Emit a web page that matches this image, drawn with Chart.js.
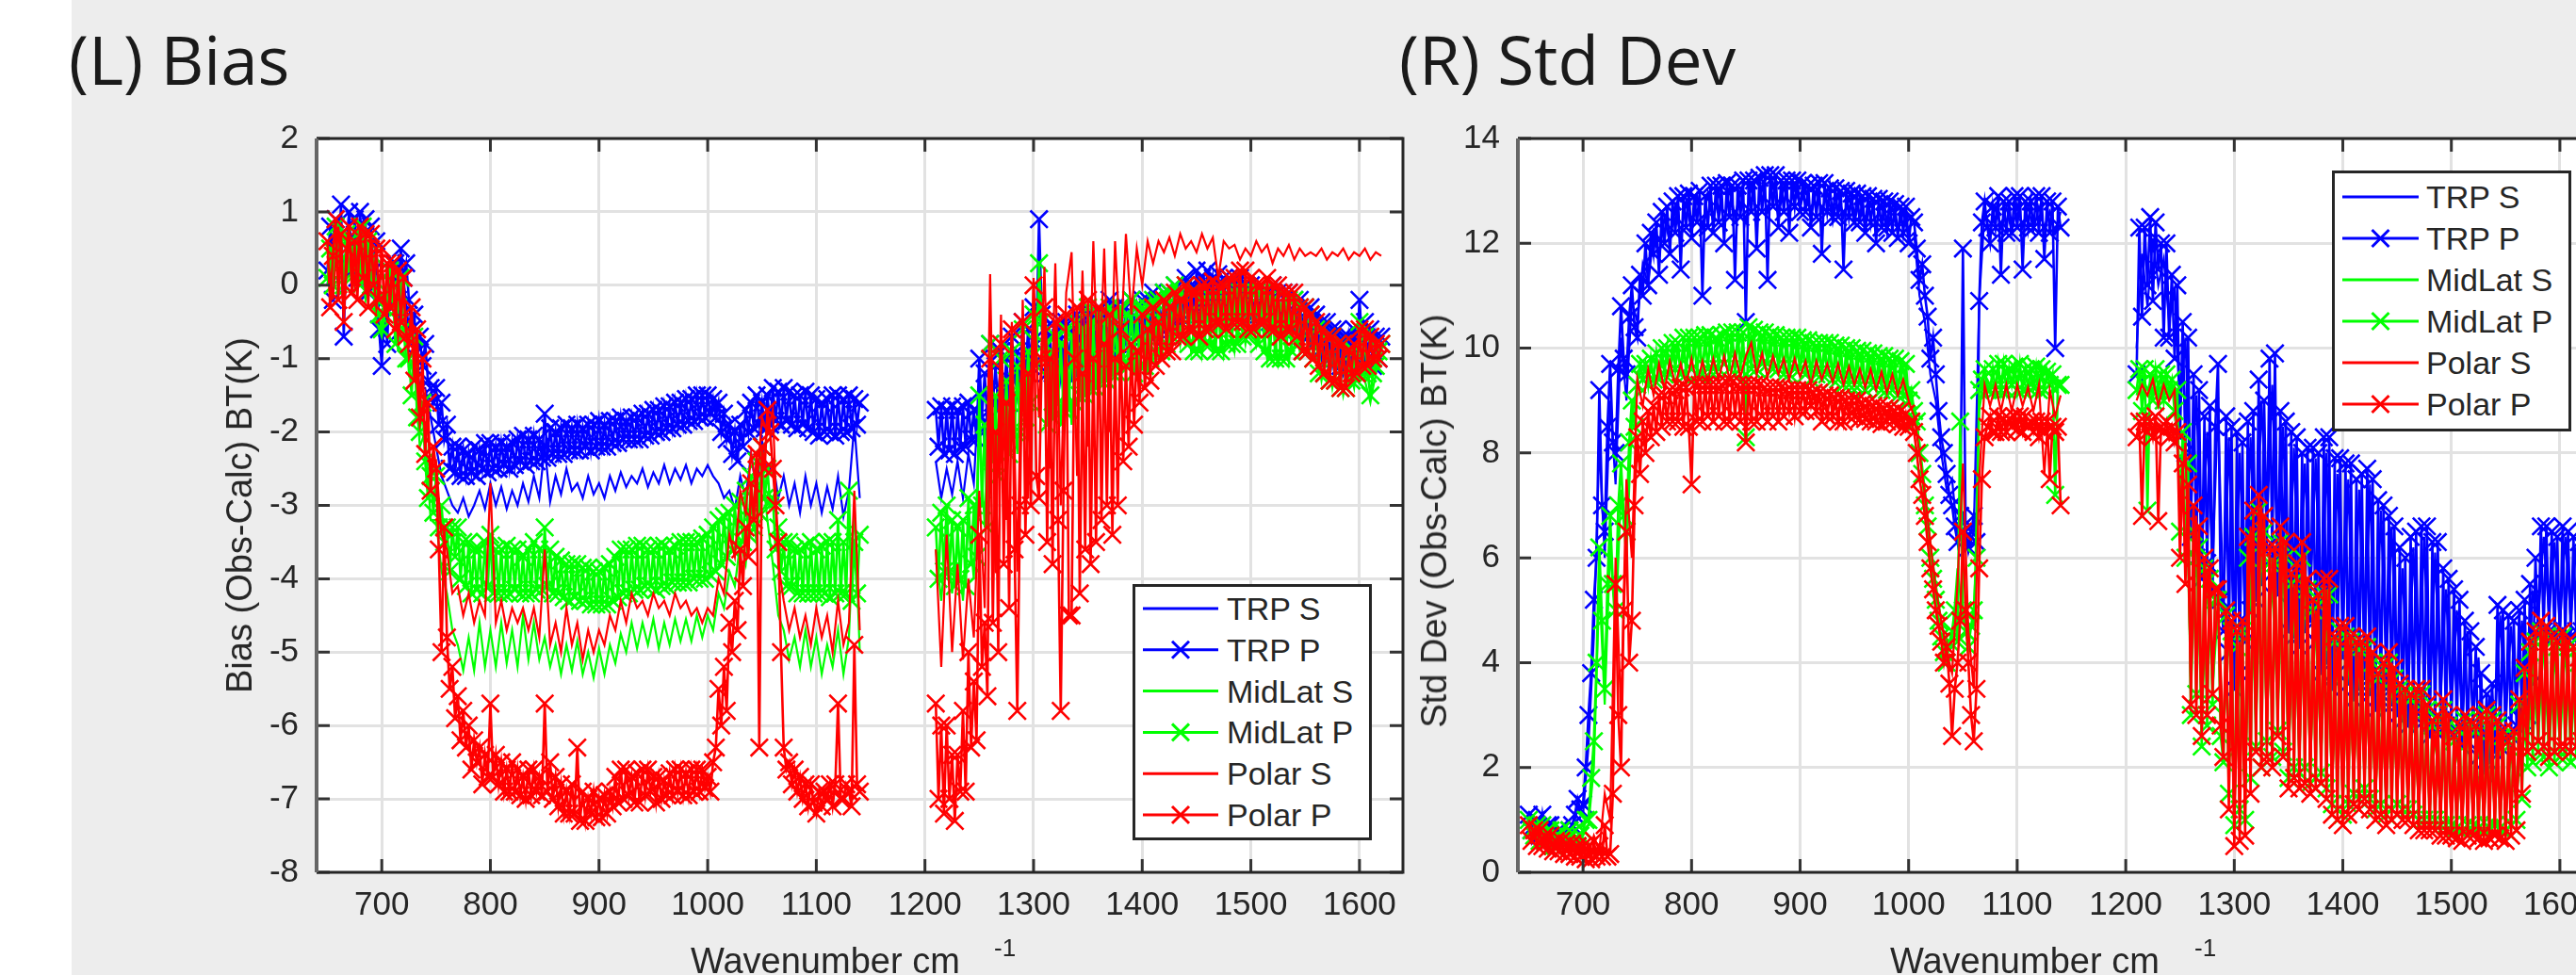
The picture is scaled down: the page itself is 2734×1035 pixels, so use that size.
<!DOCTYPE html>
<html lang="en">
<head>
<meta charset="utf-8">
<title>(L) Bias / (R) Std Dev</title>
<script src="https://cdn.jsdelivr.net/npm/chart.js"></script>
<style>
  html, body { margin: 0; padding: 0; }
  body { position: relative; width: 2734px; height: 1035px; overflow: hidden; background: #ededed;
         font-family: "Liberation Sans", Arial, sans-serif; color: #262626; }
  .strip { position: absolute; left: 0; top: 0; width: 76px; height: 1035px; background: #ffffff; }
  canvas { position: absolute; top: 0; }
  #biasChart { left: 0; }
  #stdChart { left: 1400px; }
  .panel-title { position: absolute; top: 27px; font-family: "Open Sans", sans-serif; font-weight: 400;
                 font-size: 71px; line-height: 71px; color: #1a1a1a; white-space: nowrap; }
  .y-title { position: absolute; font-size: 38px; line-height: 38px; white-space: nowrap;
             transform: translate(-50%, -50%) rotate(-90deg); }
  .x-title { position: absolute; top: 1001px; font-size: 38px; line-height: 38px; white-space: nowrap; }
  .x-sup { position: absolute; top: 993px; font-size: 26px; line-height: 26px; white-space: nowrap; }
  svg.legend { position: absolute; z-index: 2; }
</style>
</head>
<body>
<div class="strip"></div>
<canvas id="biasChart" width="1500" height="1035"></canvas>
<canvas id="stdChart" width="1400" height="1035"></canvas>
<div class="panel-title" style="left:73px">(L) Bias</div>
<div class="panel-title" style="left:1485px">(R) Std Dev</div>
<div class="y-title" style="left:254px;top:547px">Bias (Obs-Calc) BT(K)</div>
<div class="y-title" style="left:1522px;top:553px">Std Dev (Obs-Calc) BT(K)</div>
<div class="x-title" style="left:733px">Wavenumber cm</div>
<div class="x-sup" style="left:1055px">-1</div>
<div class="x-title" style="left:2006px">Wavenumber cm</div>
<div class="x-sup" style="left:2329px">-1</div>
<svg class="legend" id="biasLegend" style="left:1202px;top:620px" width="254" height="272"></svg>
<svg class="legend" id="stdLegend" style="left:2475px;top:181px" width="254" height="277"></svg>
<script>
// ---- wavenumber sampling (cm^-1) of the two instrument bands ----
// 5 cm^-1 sampling (S profiles)
const wnLW = [
  650,655,660,665,670,675,680,685,690,695,
  700,705,710,715,720,725,730,735,740,745,
  750,755,760,765,770,775,780,785,790,795,
  800,805,810,815,820,825,830,835,840,845,
  850,855,860,865,870,875,880,885,890,895,
  900,905,910,915,920,925,930,935,940,945,
  950,955,960,965,970,975,980,985,990,995,
  1000,1005,1010,1015,1020,1025,1030,1035,1040,1045,
  1050,1055,1060,1065,1070,1075,1080,1085,1090,1095,
  1100,1105,1110,1115,1120,1125,1130,1135,1140];
const wnMW = [
  1210,1215,1220,1225,1230,1235,1240,1245,1250,1255,
  1260,1265,1270,1275,1280,1285,1290,1295,1300,1305,
  1310,1315,1320,1325,1330,1335,1340,1345,1350,1355,
  1360,1365,1370,1375,1380,1385,1390,1395,1400,1405,
  1410,1415,1420,1425,1430,1435,1440,1445,1450,1455,
  1460,1465,1470,1475,1480,1485,1490,1495,1500,1505,
  1510,1515,1520,1525,1530,1535,1540,1545,1550,1555,
  1560,1565,1570,1575,1580,1585,1590,1595,1600,1605,
  1610,1615,1620];
// 2.5 cm^-1 sampling (P profiles)
const wnLWfine = [
  650,652.5,655,657.5,660,662.5,665,667.5,670,672.5,
  675,677.5,680,682.5,685,687.5,690,692.5,695,697.5,
  700,702.5,705,707.5,710,712.5,715,717.5,720,722.5,
  725,727.5,730,732.5,735,737.5,740,742.5,745,747.5,
  750,752.5,755,757.5,760,762.5,765,767.5,770,772.5,
  775,777.5,780,782.5,785,787.5,790,792.5,795,797.5,
  800,802.5,805,807.5,810,812.5,815,817.5,820,822.5,
  825,827.5,830,832.5,835,837.5,840,842.5,845,847.5,
  850,852.5,855,857.5,860,862.5,865,867.5,870,872.5,
  875,877.5,880,882.5,885,887.5,890,892.5,895,897.5,
  900,902.5,905,907.5,910,912.5,915,917.5,920,922.5,
  925,927.5,930,932.5,935,937.5,940,942.5,945,947.5,
  950,952.5,955,957.5,960,962.5,965,967.5,970,972.5,
  975,977.5,980,982.5,985,987.5,990,992.5,995,997.5,
  1000,1002.5,1005,1007.5,1010,1012.5,1015,1017.5,1020,1022.5,
  1025,1027.5,1030,1032.5,1035,1037.5,1040,1042.5,1045,1047.5,
  1050,1052.5,1055,1057.5,1060,1062.5,1065,1067.5,1070,1072.5,
  1075,1077.5,1080,1082.5,1085,1087.5,1090,1092.5,1095,1097.5,
  1100,1102.5,1105,1107.5,1110,1112.5,1115,1117.5,1120,1122.5,
  1125,1127.5,1130,1132.5,1135,1137.5,1140];
const wnMWfine = [
  1210,1212.5,1215,1217.5,1220,1222.5,1225,1227.5,1230,1232.5,
  1235,1237.5,1240,1242.5,1245,1247.5,1250,1252.5,1255,1257.5,
  1260,1262.5,1265,1267.5,1270,1272.5,1275,1277.5,1280,1282.5,
  1285,1287.5,1290,1292.5,1295,1297.5,1300,1302.5,1305,1307.5,
  1310,1312.5,1315,1317.5,1320,1322.5,1325,1327.5,1330,1332.5,
  1335,1337.5,1340,1342.5,1345,1347.5,1350,1352.5,1355,1357.5,
  1360,1362.5,1365,1367.5,1370,1372.5,1375,1377.5,1380,1382.5,
  1385,1387.5,1390,1392.5,1395,1397.5,1400,1402.5,1405,1407.5,
  1410,1412.5,1415,1417.5,1420,1422.5,1425,1427.5,1430,1432.5,
  1435,1437.5,1440,1442.5,1445,1447.5,1450,1452.5,1455,1457.5,
  1460,1462.5,1465,1467.5,1470,1472.5,1475,1477.5,1480,1482.5,
  1485,1487.5,1490,1492.5,1495,1497.5,1500,1502.5,1505,1507.5,
  1510,1512.5,1515,1517.5,1520,1522.5,1525,1527.5,1530,1532.5,
  1535,1537.5,1540,1542.5,1545,1547.5,1550,1552.5,1555,1557.5,
  1560,1562.5,1565,1567.5,1570,1572.5,1575,1577.5,1580,1582.5,
  1585,1587.5,1590,1592.5,1595,1597.5,1600,1602.5,1605,1607.5,
  1610,1612.5,1615,1617.5,1620];
const bandBreak = 1175;          // no channels between the two bands

const xTicks = [700,800,900,1000,1100,1200,1300,1400,1500,1600];
const biasTicks = [-8,-7,-6,-5,-4,-3,-2,-1,0,1,2];
const stdTicks = [0,2,4,6,8,10,12,14];

const seriesNames = ['TRP S','TRP P','MidLat S','MidLat P','Polar S','Polar P'];

// ================= Bias (Obs-Calc), K =================
const biasTrpS_LW = [
  0,0.7,0.9,0.2,0.8,0.3,0.7,0.1,0.5,-0.3,
  -0.8,-0.4,0,-0.5,0.1,-0.6,-0.8,-1.4,-1.4,-1.8,
  -2.2,-2.6,-2.8,-3,-3.1,-2.9,-3.15,-3,-2.8,-3.05,
  -2.7,-3,-2.75,-3.05,-2.8,-3,-2.7,-2.95,-2.6,-2.9,
  -2.2,-2.95,-2.6,-2.85,-2.5,-2.8,-2.7,-2.9,-2.6,-2.85,
  -2.7,-2.9,-2.6,-2.8,-2.55,-2.75,-2.6,-2.7,-2.5,-2.75,
  -2.55,-2.7,-2.45,-2.7,-2.5,-2.65,-2.45,-2.7,-2.5,-2.6,
  -2.45,-2.6,-2.7,-2.9,-2.8,-3.05,-2.6,-2.9,-2.3,-2.8,
  -2.1,-2.6,-2.4,-2.9,-2.6,-3,-2.7,-3.1,-2.6,-3,
  -2.7,-3.1,-2.75,-3.05,-2.6,-3.15,-2.8,-1.9,-2.9];
const biasTrpP_LW = [
  0.2,0.8,-0.2,0.9,0.3,1.1,-0.7,0.6,1,0.2,
  0.9,0.1,1,0.3,0.9,-0.1,0.8,0.2,0.6,-0.6,
  -1.1,-0.2,-0.8,0.2,-0.3,0.3,-0.2,0.5,0.1,0.3,
  -0.2,-0.6,-0.4,-1,-0.7,-1.1,-0.8,-1.3,-1.4,-1.6,
  -1.4,-1.9,-1.6,-2.1,-1.9,-2.5,-2.2,-2.55,-2.2,-2.6,
  -2.25,-2.6,-2.3,-2.55,-2.2,-2.6,-2.25,-2.5,-2.15,-2.55,
  -2.15,-2.5,-2.2,-2.5,-2.15,-2.45,-2.2,-2.5,-2.15,-2.45,
  -2.1,-2.4,-2.05,-2.45,-2.1,-2.4,-2.05,-2.4,-2.1,-2.35,
  -1.75,-2.35,-1.95,-2.3,-2,-2.3,-1.95,-2.3,-1.9,-2.25,
  -1.95,-2.25,-1.9,-2.25,-1.95,-2.2,-1.9,-2.25,-1.9,-2.2,
  -1.85,-2.2,-1.9,-2.2,-1.85,-2.15,-1.85,-2.15,-1.8,-2.1,
  -1.85,-2.1,-1.8,-2.1,-1.8,-2.1,-1.75,-2.05,-1.75,-2.05,
  -1.7,-2,-1.7,-2,-1.65,-1.95,-1.65,-1.95,-1.6,-1.9,
  -1.6,-1.9,-1.55,-1.85,-1.55,-1.85,-1.5,-1.8,-1.5,-1.8,
  -1.5,-1.75,-1.55,-1.8,-1.6,-2,-1.75,-2.1,-1.9,-2.3,
  -2,-2.4,-1.9,-2.2,-1.7,-2,-1.6,-1.95,-1.5,-1.9,
  -1.6,-1.95,-1.5,-1.9,-1.4,-1.85,-1.45,-1.9,-1.4,-1.85,
  -1.45,-1.9,-1.5,-1.95,-1.5,-1.9,-1.45,-1.95,-1.5,-2,
  -1.55,-2.05,-1.6,-2,-1.55,-2,-1.5,-2.05,-1.5,-2,
  -1.55,-2,-1.5,-1.95,-1.55,-1.9,-1.6];
const biasMidS_LW = [
  0,0.5,0.7,-0.1,0.6,0,0.6,-0.2,0.3,-0.5,
  -0.7,-0.2,0,-0.9,-0.1,-1.2,-1,-2.2,-2,-3.2,
  -3.2,-3.9,-4.2,-4.7,-4.9,-5.25,-4.8,-5.25,-4.6,-5.2,
  -4.7,-5.2,-4.6,-5.15,-4.7,-5.2,-4.5,-5.1,-4.6,-5.1,
  -4.8,-5.2,-4.9,-5.3,-4.9,-5.25,-4.85,-5.3,-5,-5.35,
  -4.95,-5.3,-4.9,-5.15,-4.75,-5,-4.6,-4.95,-4.6,-4.9,
  -4.55,-4.95,-4.6,-4.9,-4.55,-4.85,-4.55,-4.85,-4.5,-4.8,
  -4.5,-4.7,-4.2,-4.4,-3.9,-4.1,-3.5,-3.8,-3,-3.5,
  -2.5,-3.2,-3.8,-4.5,-4.7,-5.1,-4.8,-5.2,-4.7,-5.2,
  -4.8,-5.3,-4.9,-5.2,-4.7,-5.3,-4.8,-3,-5];
const biasMidP_LW = [
  0.1,0.5,0,0.8,0.3,0.6,0,0.7,0.2,0.5,
  0.2,0.7,0,0.8,0.1,0.6,0,0.4,-0.2,-0.4,
  -0.6,-0.3,-0.1,0.2,0,-0.8,-0.3,0.1,-0.6,-1,
  -1,-1.5,-0.7,-1.8,-2,-1.6,-2.4,-2.9,-2.6,-3.1,
  -2.6,-3.3,-3,-3.5,-3.3,-3.9,-3.3,-3.7,-3.3,-4,
  -3.5,-4.1,-3.5,-4.2,-3.6,-4.15,-3.6,-4.2,-3.5,-4.1,
  -3.4,-4.2,-3.6,-4.2,-3.6,-4.2,-3.55,-4.2,-3.6,-4.15,
  -3.6,-4.2,-3.7,-4.2,-3.6,-4.2,-3.5,-4.15,-3.6,-4.15,
  -3.3,-4.1,-3.6,-4.2,-3.7,-4.2,-3.75,-4.25,-3.8,-4.3,
  -3.8,-4.25,-3.8,-4.3,-3.85,-4.3,-3.85,-4.35,-3.9,-4.35,
  -3.9,-4.35,-3.85,-4.35,-3.8,-4.3,-3.7,-4.25,-3.6,-4.2,
  -3.6,-4.2,-3.6,-4.15,-3.55,-4.15,-3.55,-4.1,-3.6,-4.1,
  -3.6,-4.15,-3.55,-4.1,-3.55,-4.1,-3.6,-4.05,-3.55,-4.05,
  -3.5,-4.05,-3.5,-4.05,-3.5,-4,-3.5,-4,-3.45,-4,
  -3.4,-3.95,-3.3,-3.9,-3.2,-3.8,-3.15,-3.7,-3.1,-3.6,
  -3,-3.55,-2.95,-3.5,-2.8,-3.4,-2.6,-3.3,-2.4,-3.1,
  -2.2,-2.9,-2.5,-3,-2.9,-3.6,-3.3,-3.9,-3.5,-4.1,
  -3.5,-4.1,-3.6,-4.2,-3.6,-4.2,-3.55,-4.2,-3.5,-4.2,
  -3.6,-4.2,-3.55,-4.2,-3.5,-4.25,-3.5,-4.2,-3.2,-4.2,
  -3.5,-4.2,-2.8,-4.3,-3.5,-4.2,-3.4];
const biasPolS_LW = [
  0.4,-0.2,0.8,-0.4,0.7,0,0.7,-0.1,0.6,-0.3,
  0.3,-0.4,0.2,-0.7,-0.1,-1,-0.8,-1.9,-1.5,-2.5,
  -2.4,-3.4,-3.6,-4.2,-4.1,-4.5,-4.2,-4.6,-4.3,-4.5,
  -2.7,-4.6,-4.3,-4.7,-4.4,-4.6,-4.4,-4.7,-4.4,-4.8,
  -3.6,-4.9,-4.6,-5,-4.4,-4.9,-4.6,-5.1,-4.7,-5,
  -4.7,-4.9,-4.5,-4.7,-4.3,-4.6,-4.2,-4.4,-4.3,-4.5,
  -4.2,-4.4,-4.3,-4.5,-4.2,-4.4,-4.3,-4.5,-4.4,-4.6,
  -4.4,-4.5,-4,-4.2,-3.4,-3.7,-2.8,-3.1,-2.3,-2.8,
  -1.8,-2,-1.7,-3.8,-4.3,-4.7,-4.4,-4.8,-4.5,-4.9,
  -4.4,-4.8,-4.5,-5,-4.3,-4.9,-4.6,-2.8,-4.7];
const biasPolP_LW = [
  0.6,-0.3,0.4,0.9,-0.2,0.7,-0.5,0.5,0.8,-0.1,
  0.6,-0.2,0.8,0.1,0.7,-0.3,0.7,0,0.5,-0.2,
  0.5,-0.4,0.3,-0.3,0.3,-0.6,0.2,-0.5,0.1,-0.7,
  -0.8,-0.3,-1.3,-0.6,-1.8,-1,-2.3,-1.6,-2.8,-2.2,
  -2.5,-3.6,-5,-3.3,-4.8,-5.5,-5.2,-5.9,-5.6,-6.2,
  -5.8,-6.3,-6,-6.6,-6.2,-6.5,-6.3,-6.8,-6.4,-6.7,
  -5.7,-6.7,-6.4,-6.8,-6.5,-6.9,-6.6,-6.9,-6.5,-6.9,
  -6.6,-6.95,-6.7,-7,-6.6,-6.95,-6.6,-6.9,-6.7,-6.95,
  -5.7,-6.9,-6.5,-7,-6.7,-7.1,-6.8,-7.2,-6.9,-7.2,
  -6.8,-7.2,-6.3,-7.3,-6.9,-7.3,-7,-7.2,-6.9,-7.25,
  -7,-7.25,-6.95,-7.2,-6.9,-7.1,-6.7,-7.05,-6.6,-7,
  -6.6,-6.95,-6.7,-7.05,-6.65,-7.05,-6.6,-6.95,-6.6,-6.9,
  -6.7,-7.05,-6.7,-7,-6.75,-6.95,-6.65,-6.95,-6.6,-6.9,
  -6.6,-6.95,-6.65,-6.95,-6.6,-6.9,-6.6,-6.9,-6.6,-6.85,
  -6.7,-6.9,-6.5,-6.3,-5.5,-6,-5.2,-5.8,-4.6,-5,
  -4.3,-4.7,-3.6,-4.1,-3.3,-3.7,-2.7,-3.2,-2.3,-6.3,
  -2.2,-2.5,-1.7,-2,-2.5,-3,-3.5,-5,-6.3,-6.6,
  -6.5,-6.8,-6.6,-6.9,-6.7,-7,-6.8,-7.1,-6.8,-7.05,
  -7.2,-6.9,-7.1,-6.9,-7,-6.8,-7.1,-6.8,-5.7,-7,
  -7,-6.8,-6.9,-7.1,-4.9,-6.8,-6.9];

const biasTrpS_MW = [
  -2.4,-2.9,-2.5,-2.85,-2.4,-2.9,-2.3,-2.7,-1.3,-2.2,
  -1,-1.8,-1.1,-1.7,-0.9,-1.5,-0.7,-1.4,-0.5,-0.2,
  -0.8,-1.4,-0.7,-1.3,-0.6,-1.3,-0.5,-1.1,-0.5,-1,
  -0.4,-0.9,-0.3,-1,-0.4,-0.8,-0.3,-0.7,-0.3,-0.8,
  -0.2,-0.7,-0.2,-0.6,-0.1,-0.5,0,-0.4,0.1,-0.4,
  0.1,-0.3,0.05,-0.4,0,-0.4,0,-0.4,-0.1,-0.5,
  -0.1,-0.6,-0.1,-0.5,-0.2,-0.6,-0.2,-0.7,-0.3,-0.8,
  -0.5,-1,-0.6,-1.1,-0.7,-1.2,-0.8,-1.1,-0.3,-1.1,
  -0.7,-1.2,-0.8];
const biasTrpP_MW = [
  -1.7,-2.2,-1.65,-2.3,-1.7,-2.25,-1.65,-2.3,-1.7,-2.2,
  -1.65,-2.2,-1.6,-2.1,-1.7,-2.1,-1,-1.8,-1.2,-1.9,
  -0.8,-1.6,-1.1,-1.7,-0.9,-1.5,-1,-1.6,-0.7,-1.3,
  -0.9,-1.4,-0.5,-1.2,-0.6,-1.1,-0.3,-0.8,0.9,-0.4,
  -0.6,-1.2,-0.7,-1.2,-0.6,-1.1,-0.5,-1.2,-0.5,-1.1,
  -0.6,-1.2,-0.4,-1,-0.5,-1,-0.4,-0.9,-0.4,-0.9,
  -0.3,-0.8,-0.4,-0.9,-0.2,-0.9,-0.3,-0.8,-0.3,-0.7,
  -0.3,-0.7,-0.2,-0.6,-0.3,-0.7,-0.2,-0.6,-0.2,-0.7,
  -0.1,-0.6,-0.2,-0.6,-0.1,-0.5,-0.1,-0.5,0,-0.4,
  -0.1,-0.4,0.1,-0.3,0,-0.4,0.2,-0.3,0.1,-0.3,
  0.2,-0.2,0.1,-0.3,0.15,-0.3,0.1,-0.3,0.1,-0.3,
  0,-0.3,0.1,-0.35,0,-0.3,0,-0.4,-0.1,-0.4,
  0,-0.5,-0.1,-0.5,0,-0.4,-0.1,-0.5,-0.1,-0.5,
  -0.1,-0.6,-0.2,-0.6,-0.2,-0.7,-0.3,-0.7,-0.3,-0.8,
  -0.4,-0.9,-0.5,-0.9,-0.5,-1,-0.6,-1,-0.6,-1.1,
  -0.7,-1.1,-0.7,-1,-0.6,-1,-0.2,-0.8,-0.5,-1,
  -0.6,-1.1,-0.7,-1,-0.7];
const biasMidS_MW = [
  -3.6,-4.3,-3.4,-4.2,-3.5,-4.3,-3.2,-4,-1.9,-3.3,
  -1.1,-2.7,-1.3,-2.5,-1.2,-2.3,-0.9,-2.1,-0.7,-0.2,
  -1,-2.1,-0.9,-1.9,-0.8,-1.9,-0.7,-1.7,-0.5,-1.6,
  -0.6,-1.5,-0.5,-1.4,-0.5,-1.2,-0.4,-1.3,-0.5,-1.2,
  -0.4,-1,-0.3,-0.9,-0.2,-0.8,-0.2,-0.9,-0.3,-0.95,
  -0.4,-0.9,-0.4,-0.95,-0.4,-0.9,-0.3,-0.8,-0.3,-0.8,
  -0.3,-1,-0.4,-1.05,-0.5,-1.05,-0.4,-0.9,-0.5,-1,
  -0.8,-1.3,-0.9,-1.4,-1,-1.5,-1.1,-1.4,-0.7,-1.3,
  -1.6,-1.2,-0.9];
const biasMidP_MW = [
  -3.3,-4,-3.1,-3.9,-3,-3.9,-3.2,-4.1,-3.3,-4,
  -3.2,-4.1,-2.9,-3.8,-3,-3.7,-1.5,-3,-1.9,-3.3,
  -0.8,-2.4,-1.5,-2.6,-1,-2.2,-1.3,-2.3,-0.9,-2,
  -1.1,-2,-0.6,-1.8,-0.9,-1.6,-0.4,-1.1,0.3,-0.5,
  -0.8,-1.9,-0.9,-1.8,-0.7,-1.6,-0.8,-1.7,-0.6,-1.7,
  -0.7,-1.6,-0.5,-1.5,-0.6,-1.5,-0.3,-1.4,-0.5,-1.4,
  -0.4,-1.3,-0.5,-1.3,-0.3,-1.2,-0.4,-1.2,-0.3,-1,
  -0.4,-1.1,-0.2,-1.2,-0.3,-1.1,-0.3,-1.1,-0.3,-1,
  -0.2,-0.9,-0.2,-0.9,-0.1,-0.8,-0.1,-0.7,0,-0.6,
  -0.1,-0.7,0,-0.8,-0.1,-0.9,-0.1,-0.9,-0.2,-0.8,
  -0.2,-0.8,-0.2,-0.9,-0.2,-0.9,-0.2,-0.8,-0.2,-0.8,
  -0.1,-0.8,-0.1,-0.7,-0.1,-0.7,-0.1,-0.6,-0.1,-0.8,
  -0.1,-0.9,-0.2,-1,-0.2,-1,-0.3,-1,-0.3,-1,
  -0.2,-0.9,-0.2,-0.8,-0.3,-0.9,-0.3,-0.9,-0.4,-1,
  -0.6,-1.2,-0.6,-1.2,-0.7,-1.3,-0.7,-1.3,-0.8,-1.4,
  -0.8,-1.4,-0.9,-1.3,-0.9,-1.3,-0.5,-1.2,-0.7,-1.2,
  -1.5,-1.2,-1.1,-0.9,-0.8];
const biasPolS_MW = [
  -3.6,-5.2,-3.4,-5,-3.8,-5.1,-4,-4.8,-2.8,-4.4,
  0.15,-3.9,-0.4,-3.2,-0.5,-3.9,-0.2,-2.9,0.1,-1.8,
  0.25,-2.5,0.3,-3,-0.1,0.45,-2.6,0.2,-2.2,0.6,
  -1.6,0.5,-2,0.6,-0.9,0.7,-0.4,0.5,0,0.6,
  0.3,0.6,0.45,0.65,0.4,0.7,0.5,0.6,0.45,0.7,
  0.5,0.65,0.1,0.6,0.5,0.55,0.35,0.5,0.4,0.6,
  0.45,0.55,0.3,0.5,0.4,0.55,0.35,0.5,0.4,0.45,
  0.4,0.5,0.35,0.45,0.4,0.5,0.35,0.45,0.4,0.5,
  0.35,0.45,0.4];
const biasPolP_MW = [
  -5.7,-7,-6,-7.2,-6,-7,-6.4,-7.3,-6.4,-6.9,
  -5.8,-6.9,-5,-6.3,-5.4,-6.2,-3.4,-5.2,-4.6,-5.6,
  -1,-4.6,-2,-5,-0.8,-3.8,-1.6,-4.4,-0.6,-3.6,
  -5.8,-3,-0.5,-3.4,-1.2,-3,0,-2.6,-2.9,-1,
  -0.3,-3.5,-1,-3.8,-0.5,-3.2,-5.8,-2.8,-0.4,-4.5,
  -4.5,-1,-0.3,-4.2,-1.2,-3.6,-0.2,-3.8,-1,-3.5,
  -0.3,-3.2,-0.8,-3,-0.4,-3.4,-1,-3,-0.6,-2.4,
  -1.1,-2.2,-0.8,-1.9,-0.9,-1.6,-0.4,-1.4,-0.6,-1.3,
  -0.3,-1.1,-0.5,-1,-0.2,-0.9,-0.3,-0.9,-0.1,-0.7,
  -0.2,-0.7,0,-0.6,-0.1,-0.6,-0.1,-0.7,0,-0.6,
  0,-0.6,0.05,-0.5,0,-0.5,0,-0.6,0.1,-0.5,
  0.1,-0.5,0.2,-0.5,0.2,-0.6,0.1,-0.6,0,-0.5,
  0,-0.5,0.1,-0.6,0,-0.6,0,-0.7,-0.1,-0.6,
  -0.1,-0.6,-0.1,-0.7,-0.3,-0.9,-0.3,-0.9,-0.4,-1,
  -0.5,-1.1,-0.6,-1.2,-0.7,-1.3,-0.7,-1.3,-0.8,-1.4,
  -0.8,-1.4,-0.9,-1.2,-0.8,-1.2,-0.6,-1.1,-0.6,-1.1,
  -0.7,-1,-0.8,-1,-0.8];

// ================= Std Dev (Obs-Calc), K =================
const stdTrpS_LW = [
  1,0.8,0.9,0.7,0.85,0.6,0.75,0.55,0.8,1.2,
  1.1,2.4,4.5,8.2,6,9,7.4,10.2,9,10.9,
  10.5,11.6,11.2,12.2,11.7,12.5,12,12.7,12.1,12.8,
  12.2,12.9,12.3,12.95,12.4,13,12.3,13.05,12.5,13,
  12.4,13.1,12.5,13.1,12.6,13.15,12.5,13.1,12.6,13.1,
  12.7,13.05,12.5,13,12.6,13,12.4,12.95,12.5,12.9,
  12.4,12.85,12.3,12.8,12.35,12.75,12.2,12.7,12.2,12.6,
  12.1,12.2,11,10.5,9.5,9,8,7.3,7.5,6.4,
  6.8,6.1,6.5,10.9,12.6,12.2,12.7,12.3,12.7,12.2,
  12.75,12.3,12.7,12.25,12.7,12.3,12.6,12.2,12.6];
const stdTrpP_LW = [
  1.1,0.8,0.9,1,0.7,1.1,0.7,0.9,0.9,0.6,
  0.6,0.8,0.8,0.6,0.6,0.8,0.9,1.1,1.4,1.2,
  1.3,2,3,3.8,5.2,6,9.2,7,6.5,8.5,
  9.7,8.2,8,9.6,10.8,9.8,9.5,10.6,11.2,10.4,
  10.2,11.4,11,12,11.2,12.2,11.8,12.4,11.4,12.6,
  12,12.7,11.8,12.8,12.2,12.9,11.5,12.9,12.3,12.95,
  12.1,12.9,12.4,13,11,12.9,12.3,13.1,12.2,13.1,
  12.4,13.1,12,13.15,12.5,13.1,11.3,13.1,12.5,13.2,
  10.5,13.2,12.6,13.2,11.9,13.25,12.6,13.3,11.3,13.3,
  12.7,13.3,12.3,13.2,12.6,13.2,12.2,13.2,12.7,13.2,
  12.6,13.15,12.6,13.1,12.3,13.1,12.5,13.15,11.8,13.15,
  12.6,13.05,12.5,13.05,12.5,13,11.5,13,12.5,12.95,
  12.4,12.95,12.4,12.9,12.2,12.9,12.4,12.85,12,12.85,
  12.3,12.8,12.3,12.8,12.2,12.75,12.1,12.7,12.2,12.7,
  12,12.5,12.4,11.9,11.3,11.6,11,10.6,9.8,10.2,
  9.5,8.8,8.3,8,7.6,7.2,7,6.6,6.3,6.8,
  11.9,6.5,6.2,6.5,6.8,6.3,10.9,12.4,12.8,12.3,
  12,12.7,12.3,12.9,11.4,12.8,12.2,12.8,12.2,12.9,
  12.3,12.9,11.5,12.8,12.3,12.8,12.3,12.9,12.2,12.9,
  11.7,12.8,12.2,12.8,10,12.7,12.3];
const stdMidS_LW = [
  0.9,0.75,0.85,0.6,0.8,0.55,0.75,0.55,0.7,0.55,
  0.7,0.9,2,5.5,3.2,6.2,4.6,7.3,6,8.6,
  9.4,9.6,9.5,9.8,9.5,9.9,9.6,10,9.65,10.05,
  9.7,10.1,9.7,10.15,9.75,10.1,9.8,10.2,9.75,10.2,
  9.8,10.25,9.8,10.2,9.75,10.15,9.7,10.1,9.7,10.1,
  9.65,10.05,9.6,10,9.6,10,9.55,9.95,9.5,9.9,
  9.45,9.85,9.4,9.8,9.4,9.75,9.3,9.7,9.25,9.6,
  9.1,8.9,8.2,7.3,6.3,5.5,4.8,4.3,4.4,5.8,
  4.8,4.6,4.7,8.8,9.5,9.3,9.55,9.3,9.6,9.3,
  9.6,9.35,9.55,9.3,9.5,9.3,9.5,9.3,9.4];
const stdMidP_LW = [
  1,0.8,0.7,0.9,0.6,0.9,0.6,0.8,0.8,0.5,
  0.5,0.7,0.8,0.6,0.6,0.8,0.75,0.6,0.5,0.7,
  0.8,1,1,1.8,2.5,4,6.2,4.8,3.5,5.5,
  6.8,5.5,5,7,7.8,6.8,6.5,8.2,9,8.5,
  9.3,9.7,9.4,9.7,9.3,9.8,9.4,9.9,9.4,10,
  9.5,10,9.5,10.1,9.6,10.1,9.5,10.2,9.5,10.2,
  9.6,10.2,9.5,10.2,9.5,10.25,9.6,10.25,9.6,10.2,
  9.6,10.25,9.7,10.3,9.6,10.3,9.5,10.3,9.6,10.3,
  8.3,10.4,9.6,10.35,9.6,10.3,9.7,10.3,9.7,10.25,
  9.6,10.25,9.6,10.2,9.5,10.2,9.5,10.2,9.6,10.2,
  9.6,10.15,9.5,10.15,9.4,10.1,9.5,10.1,9.5,10.1,
  9.5,10.1,9.4,10.05,9.4,10.05,9.3,10,9.3,10,
  9.3,9.95,9.3,9.95,9.2,9.9,9.3,9.9,9.3,9.85,
  9.2,9.85,9.2,9.8,9.2,9.8,9.1,9.75,9.1,9.7,
  9,9.2,8.8,8.6,8,7.6,7,6.6,6,5.6,
  5.2,4.8,4.5,4.2,4,4.4,4.6,5,4.4,8.6,
  5,4.6,4.3,4.7,5,6,9.2,9.4,9.6,9.2,
  9.2,9.6,9.2,9.7,9.2,9.7,9.2,9.6,9.3,9.65,
  9.2,9.7,9.2,9.6,9.25,9.6,9.25,9.65,9.2,9.6,
  9.2,9.55,9.3,9.5,7.2,9.3,9.3];
const stdPolS_LW = [
  1,0.7,0.9,0.6,0.8,0.5,0.7,0.5,0.6,0.4,
  0.6,0.35,0.7,0.4,1.5,1,6,3,7.5,6,
  9.4,8.9,9.6,9.1,9.7,9.2,9.75,9.3,9.7,9.3,
  9.8,9.3,9.75,9.35,9.8,9.4,9.85,9.4,9.9,9.45,
  9.85,10.1,9.5,9.9,9.45,9.85,9.5,9.8,9.4,9.8,
  9.45,9.75,9.3,9.75,9.4,9.7,9.35,9.7,9.3,9.65,
  9.3,9.6,9.25,9.6,9.2,9.55,9.15,9.5,9.1,9.4,
  9,8.7,8,7.2,6.3,5.4,4.8,4.2,3.8,5.5,
  7.8,4.6,3.5,7.5,9.3,8.9,9.3,8.8,9.3,8.8,
  9.3,8.9,9.25,8.8,9.3,7.6,9.2,8.7,9.1];
const stdPolP_LW = [
  0.9,0.6,0.8,0.5,0.8,0.5,0.7,0.45,0.7,0.4,
  0.6,0.4,0.6,0.35,0.55,0.35,0.55,0.3,0.5,0.3,
  0.5,0.25,0.5,0.25,0.6,0.3,0.5,0.3,0.9,0.3,
  0.35,1.5,5.5,3,2,5,6.5,4,4.8,7,
  8.3,7.6,8.6,8,8.8,8.3,8.9,8.4,9.1,8.5,
  9.1,8.6,9.2,8.6,9.2,8.6,9.25,8.5,9.25,8.5,
  7.4,9.3,8.6,9.3,8.6,9.3,8.7,9.3,8.6,9.3,
  8.7,9.3,8.6,9.35,8.6,9.35,8.7,9.3,8.6,9.3,
  8.2,9.3,8.6,9.3,8.6,9.3,8.7,9.25,8.6,9.25,
  8.7,9.25,8.6,9.25,8.7,9.2,8.8,9.2,8.7,9.2,
  8.8,9.2,8.8,9.2,8.9,9.15,8.8,9.15,8.6,9.1,
  8.7,9.1,8.7,9.05,8.6,9.05,8.6,9,8.7,9,
  8.7,9,8.65,8.95,8.65,8.95,8.6,8.9,8.6,8.9,
  8.55,8.85,8.6,8.85,8.6,8.8,8.55,8.8,8.5,8.75,
  8.5,8.6,8.4,8,7.5,7.2,6.8,6.3,5.8,5.4,
  5,4.7,4.4,4,4.3,3.6,2.6,3.5,4,4.8,
  6.5,5,4,3,2.5,3.5,5.8,7.5,8.3,8.5,
  8.7,8.4,8.4,8.7,8.4,8.65,8.4,8.65,8.5,8.7,
  8.45,8.7,8.4,8.7,8.5,8.6,8.4,8.6,8.3,8.6,
  8.4,8.6,7.5,8.5,8.4,8.5,7];

const stdTrpS_MW = [
  10,11.8,10.8,12.1,11.2,11.7,10.5,11.1,8.8,10.2,
  6.9,9.1,6,8.4,5.8,8.9,5,8.3,3.9,8,
  4.8,8.3,5.6,9,6.5,9.3,5.7,8.5,5,8.1,
  4.7,7.8,5.2,7.9,4.2,8,3.9,7.6,4.5,7.5,
  3.7,7.3,4.1,7.4,3.5,6.9,3.9,6.6,3.4,5.8,
  3.2,6.2,3.6,6.4,3,6.1,3.3,5.4,3.1,5,
  2.8,4.6,3,4.1,2.3,3.3,2.7,4.9,2.9,4.7,
  3.2,4.8,3.4,5.3,4.8,6.4,4.9,6.3,4.7,6.4,
  4.8,6.2,4.9];
const stdTrpP_MW = [
  9.5,12.3,10.6,12.3,11.2,12.5,10.9,12.4,11.5,12,
  10.2,12,10.2,11.4,9.8,11.2,8.3,10.5,8,10.2,
  6.4,9.5,6,9.2,5.6,8.7,5.9,8.9,5.3,8.5,
  9.7,5.2,4.6,8.7,4.2,8.5,3.5,8.4,3.8,8.2,
  4.4,8.6,5,8.8,5.2,9.4,5.5,9,6.2,9.8,
  6,9.9,5.3,8.8,5.8,8.6,4.6,8.4,4.5,8.3,
  4.3,8,4.6,8.1,4.8,8.1,4.4,8,3.8,8.3,
  4,8.3,3.5,7.9,3.8,7.9,4.1,7.8,3.6,7.8,
  3.3,7.5,3.5,7.6,3.7,7.7,3.4,7.5,3.1,7.1,
  3.3,7,3.5,6.8,3.2,6.6,3,6.2,2.9,6,
  2.8,6.4,3,6.5,3.2,6.6,2.9,6.6,2.6,6.3,
  2.7,6.3,2.9,5.8,2.8,5.6,2.7,5.4,2.7,5.2,
  2.4,4.8,2.5,4.6,2.6,4.3,2.2,3.8,1.9,3.4,
  2.1,3.6,2.3,5.1,2.4,5,2.5,4.9,2.6,4.8,
  2.8,5,2.9,5.2,3,5.5,3.6,6,4.5,6.6,
  4.6,6.6,4.6,6.5,4.5,6.4,4.4,6.6,4.5,6.5,
  4.5,6.4,4.6,6.3,4.6];
const stdMidS_MW = [
  9.1,9.5,9.2,9.5,9,9.4,9.1,9.3,7,8.3,
  3.4,6.3,2.8,5.6,3.5,5,2.5,4.7,1.3,4.1,
  1.4,5.8,2.7,6.6,2.8,5.7,3,6,2.1,5.2,
  2.2,5.7,2,4.8,2.2,5,1.6,4.2,1.4,4.3,
  1.8,4.1,1.9,4.1,1.5,3.5,1.4,3.8,1.6,3.3,
  1.5,3.1,1.3,3.2,1.3,2.6,1.2,2.9,1.2,2.4,
  1.1,2.7,1.2,2.5,1.1,2.8,1.2,2.6,1.1,2.3,
  1.3,3,2.2,4,2.5,4.4,2.2,4.2,2.4,4.3,
  2.3,4,2.5];
const stdMidP_MW = [
  9.2,9.6,8.8,9.6,6.9,9.5,9,9.6,9.2,9.5,
  9,9.5,9.2,9.4,8.8,9.2,6.5,8.4,6,7.8,
  3,6.5,3.4,6.2,2.4,5.8,2.8,5.6,3.2,5.2,
  5.2,2.6,2.1,4.9,1.5,4.6,0.9,4.3,1.2,4.6,
  1,6,1.8,6.4,2.4,6.9,2,6.5,2.5,5.9,
  2.2,5.9,2.7,6.3,2.3,6,1.8,5.5,2,5.6,
  1.9,6,2,5.4,1.7,5,1.8,5.1,1.9,5.3,
  1.6,5.3,1.3,4.4,1.2,4.6,1.1,4.5,1.3,4.4,
  1.5,4.3,1.4,4.3,1.6,4.3,1.4,4,1.2,3.7,
  1.3,3.9,1.1,4,1.2,3.7,1.3,3.5,1.2,3.4,
  1.2,3.3,1.1,3.4,1,3.4,1,3.1,1,2.8,
  1,2.9,0.9,3.1,0.9,2.8,0.9,2.5,0.85,2.7,
  0.8,2.9,0.9,2.8,0.9,2.7,0.85,2.9,0.8,3,
  0.85,2.9,0.9,2.8,0.85,2.6,0.8,2.4,0.9,2.6,
  1,3.2,1.4,3.8,2,4.2,2.1,4.4,2.3,4.6,
  2.2,4.5,2,4.4,2.1,4.3,2.2,4.5,2.2,4.3,
  2.1,4.2,2.2,4,2.3];
const stdPolS_MW = [
  9,9.3,9.1,9.4,8.9,9.3,9,9.2,7,8.2,
  3.6,6.8,3,5.8,3.8,5.2,2.6,4.8,1,4.4,
  1.2,6.6,2.8,7,2.7,6,3.1,6.4,2.1,5.5,
  2.1,6.1,2,5,2.2,5.4,1.5,4.3,1.3,4.5,
  1.7,4.2,1.8,4.3,1.4,3.6,1.3,4,1.5,3.4,
  1.4,3.2,1.2,3.3,1.2,2.7,1.1,3.1,1,2.5,
  1,2.8,1.1,2.6,1,2.9,1.1,2.7,1,2.4,
  1.2,3.1,2.6,4.3,2.8,4.6,2.5,4.4,2.7,4.5,
  2.6,4.2,2.8];
const stdPolP_MW = [
  8.3,8.6,6.8,8.6,8.4,8.6,8.3,8.7,6.7,8.5,
  8.4,8.6,8.3,8.5,8.2,8.4,6,7.8,5.5,7.4,
  3.2,7,3,6.6,2.6,6,3,5.8,3.4,5.4,
  5.4,2.8,2.2,5,1.2,4.8,0.5,4.6,0.6,4.8,
  0.7,6.4,1.5,6.9,2.3,7.2,2,6.8,2.2,6.2,
  2,6.2,2.6,6.6,2.2,6.3,1.6,5.7,1.8,5.9,
  1.6,6.3,1.7,5.6,1.5,5.2,1.6,5.3,1.7,5.6,
  1.4,5.6,1.1,4.5,1,4.7,0.9,4.7,1.1,4.5,
  1.3,4.4,1.2,4.4,1.4,4.5,1.2,4.2,1,3.8,
  1.1,4,0.9,4.2,1,3.9,1.1,3.6,1,3.5,
  1,3.4,0.9,3.5,0.8,3.5,0.8,3.2,0.8,2.9,
  0.8,3,0.7,3.3,0.7,3,0.7,2.6,0.65,2.8,
  0.6,3,0.7,2.9,0.7,2.8,0.65,3,0.6,3.1,
  0.65,3,0.7,2.9,0.65,2.7,0.6,2.5,0.7,2.7,
  0.8,3.3,1.5,3.9,2.3,4.4,2.4,4.6,2.5,4.8,
  2.4,4.7,2.2,4.5,2.3,4.4,2.4,4.6,2.4,4.4,
  2.3,4.3,2.4,4.1,2.5];

// ---- drawing ----
const seriesLook = [
  { color: '#0000ff', marker: false },
  { color: '#0000ff', marker: true  },
  { color: '#00ff00', marker: false },
  { color: '#00ff00', marker: true  },
  { color: '#ff0000', marker: false },
  { color: '#ff0000', marker: true  }
];

const plotTop = 147, plotBottom = 926, canvasHeight = 1035;

function joinBands(lw, mw, gridLW, gridMW) {
  const pts = gridLW.map((x, i) => ({ x: x, y: lw[i] }));
  pts.push({ x: bandBreak, y: null });
  gridMW.forEach((x, i) => pts.push({ x: x, y: mw[i] }));
  return pts;
}

// white axes background, then box outline and inward tick marks over the data
const axesBox = {
  id: 'axesBox',
  beforeDraw(chart) {
    const { ctx, chartArea: a } = chart;
    ctx.save();
    ctx.fillStyle = '#ffffff';
    ctx.fillRect(a.left, a.top, a.right - a.left, a.bottom - a.top);
    ctx.restore();
  },
  afterDatasetsDraw(chart) {
    const { ctx, chartArea: a, scales } = chart;
    const len = 14;
    ctx.save();
    ctx.strokeStyle = '#333333';
    ctx.lineWidth = 3;
    ctx.beginPath();
    scales.x.ticks.forEach(t => {
      const px = scales.x.getPixelForValue(t.value);
      ctx.moveTo(px, a.bottom); ctx.lineTo(px, a.bottom - len);
      ctx.moveTo(px, a.top); ctx.lineTo(px, a.top + len);
    });
    scales.y.ticks.forEach(t => {
      const py = scales.y.getPixelForValue(t.value);
      ctx.moveTo(a.left, py); ctx.lineTo(a.left + len, py);
      ctx.moveTo(a.right, py); ctx.lineTo(a.right - len, py);
    });
    ctx.stroke();
    ctx.strokeStyle = '#262626';
    ctx.lineWidth = 3;
    ctx.beginPath();
    ctx.moveTo(a.left, a.top); ctx.lineTo(a.right, a.top);
    ctx.lineTo(a.right, a.bottom); ctx.lineTo(a.left, a.bottom);
    ctx.stroke();
    ctx.strokeStyle = '#666666';
    ctx.lineWidth = 4;
    ctx.beginPath();
    ctx.moveTo(a.left, a.top); ctx.lineTo(a.left, a.bottom);
    ctx.stroke();
    ctx.restore();
  }
};

function makeChart(canvasId, lwSets, mwSets, yMin, yMax, yTickValues, yAxisWidth, rightPad) {
  const tickFont = { family: 'Liberation Sans', size: 35 };
  return new Chart(document.getElementById(canvasId), {
    type: 'line',
    data: {
      datasets: seriesNames.map((name, k) => {
        const look = seriesLook[k];
        return {
          label: name,
          data: look.marker ? joinBands(lwSets[k], mwSets[k], wnLWfine, wnMWfine)
                            : joinBands(lwSets[k], mwSets[k], wnLW, wnMW),
          borderColor: look.color,
          backgroundColor: look.color,
          borderWidth: look.marker ? 2.6 : 2.2,
          pointStyle: look.marker ? 'crossRot' : false,
          pointRadius: look.marker ? 13 : 0,
          pointBorderWidth: 2.6,
          pointBorderColor: look.color,
          tension: 0,
          spanGaps: false,
          fill: false,
          order: seriesNames.length - k   // later series painted over earlier ones
        };
      })
    },
    options: {
      responsive: false,
      devicePixelRatio: 1,
      animation: false,
      events: [],
      layout: { autoPadding: false, padding: { left: 0, right: rightPad, top: plotTop, bottom: 0 } },
      plugins: { legend: { display: false }, tooltip: { enabled: false } },
      scales: {
        x: {
          type: 'linear', min: 640, max: 1640,
          afterBuildTicks: s => { s.ticks = xTicks.map(v => ({ value: v })); },
          afterFit: s => { s.height = canvasHeight - plotBottom; },
          grid: { color: '#e2e2e2', lineWidth: 3, drawTicks: false },
          border: { display: false },
          ticks: { padding: 14, color: '#262626', font: tickFont, maxRotation: 0, autoSkip: false,
                   callback: v => String(v) }
        },
        y: {
          type: 'linear', min: yMin, max: yMax,
          afterBuildTicks: s => { s.ticks = yTickValues.map(v => ({ value: v })); },
          afterFit: s => { s.width = yAxisWidth; },
          grid: { color: '#e2e2e2', lineWidth: 3, drawTicks: false },
          border: { display: false },
          ticks: { padding: 19, color: '#262626', font: tickFont, autoSkip: false,
                   callback: v => String(v) }
        }
      }
    },
    plugins: [axesBox]
  });
}

function drawLegend(svgId, box) {
  const NS = 'http://www.w3.org/2000/svg';
  const svg = document.getElementById(svgId);
  const w = +svg.getAttribute('width'), h = +svg.getAttribute('height');
  const add = (tag, attrs, text) => {
    const el = document.createElementNS(NS, tag);
    for (const k in attrs) el.setAttribute(k, attrs[k]);
    if (text) el.textContent = text;
    svg.appendChild(el);
    return el;
  };
  add('rect', { x: 1.5, y: 1.5, width: w - 3, height: h - 3, fill: '#ffffff', stroke: '#262626', 'stroke-width': 3 });
  seriesNames.forEach((name, k) => {
    const cy = box.firstRow + k * box.rowStep;
    const look = seriesLook[k];
    add('line', { x1: box.x0, y1: cy, x2: box.x1, y2: cy, stroke: look.color, 'stroke-width': 3 });
    if (look.marker) {
      const cx = (box.x0 + box.x1) / 2, r = 9;
      add('path', { d: `M${cx - r},${cy - r}L${cx + r},${cy + r}M${cx - r},${cy + r}L${cx + r},${cy - r}`,
                    stroke: look.color, 'stroke-width': 3, fill: 'none' });
    }
    add('text', { x: box.textX, y: cy + 12, 'font-family': 'Liberation Sans, Arial, sans-serif',
                  'font-size': 34, fill: '#262626' }, name);
  });
}

makeChart('biasChart',
  [biasTrpS_LW, biasTrpP_LW, biasMidS_LW, biasMidP_LW, biasPolS_LW, biasPolP_LW],
  [biasTrpS_MW, biasTrpP_MW, biasMidS_MW, biasMidP_MW, biasPolS_MW, biasPolP_MW],
  -8, 2, biasTicks, 336, 11);

makeChart('stdChart',
  [stdTrpS_LW, stdTrpP_LW, stdMidS_LW, stdMidP_LW, stdPolS_LW, stdPolP_LW],
  [stdTrpS_MW, stdTrpP_MW, stdMidS_MW, stdMidP_MW, stdPolS_MW, stdPolP_MW],
  0, 14, stdTicks, 211, 37);

drawLegend('biasLegend', { firstRow: 26, rowStep: 43.8, x0: 11, x1: 91, textX: 100 });
drawLegend('stdLegend', { firstRow: 28, rowStep: 44, x0: 11, x1: 92, textX: 100 });
</script>
</body>
</html>
